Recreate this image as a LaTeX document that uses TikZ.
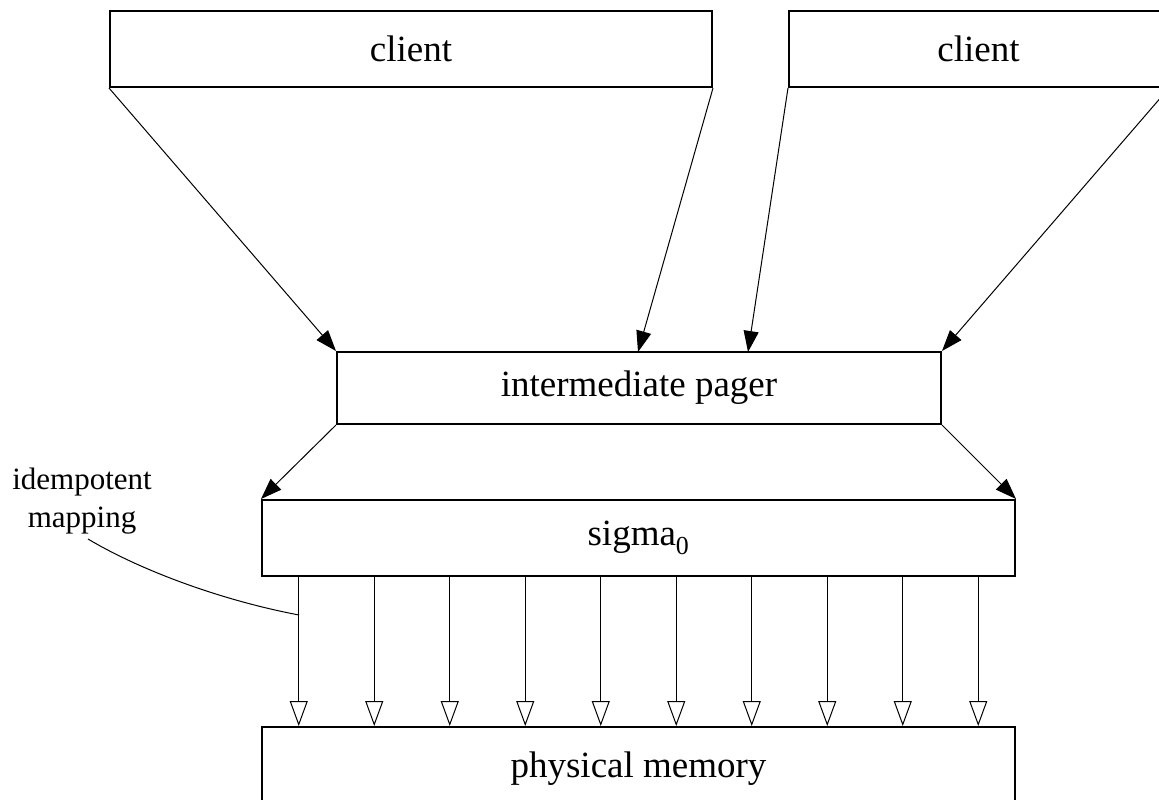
\documentclass[tikz,border=0pt]{standalone}
\usepackage{fontspec}
\setmainfont{Liberation Serif}
\usetikzlibrary{arrows.meta,calc}
\begin{document}
\begin{tikzpicture}[x=1pt,y=-1pt,
  box/.style={draw, line width=2pt, fill=white, inner sep=0pt,
    font=\fontsize{37}{40}\selectfont},
  link/.style={line width=1pt, -{Triangle[length=21pt,width=15pt]}},
  mapto/.style={line width=1pt, -{Triangle[open,length=25pt,width=18pt,line width=1pt]}}]
\useasboundingbox (0,0) rectangle (1159,800);

% boxes
\node[box, minimum width=602pt, minimum height=76pt] (c1) at (411,49) {client};
\node[box, minimum width=379pt, minimum height=76pt] (c2) at (978.5,49) {client};
\node[box, minimum width=604pt, minimum height=72pt] (ip) at (639,388) {intermediate pager};
\node[box, minimum width=753pt, minimum height=76pt] (sg) at (638.5,538) {sigma\textsubscript{0}};
\node[box, minimum width=753pt, minimum height=84pt] (pm) at (638.5,769) {physical memory};

% entry points of the client links on the pager
\coordinate (ipa) at (638,352);
\coordinate (ipb) at (748,352);

% clients to pager
\draw[link] (c1.south west) -- (ip.north west);
\draw[link] (c1.south east) -- (ipa);
\draw[link] (c2.south west) -- (ipb);
\draw[link] (c2.south east) -- (ip.north east);

% pager to sigma0
\draw[link] (ip.south west) -- (sg.north west);
\draw[link] (ip.south east) -- (sg.north east);

% sigma0 to physical memory
\foreach \i in {0,...,9} {
  \coordinate (s\i) at ($(sg.south west)!{(\i+0.5)/10}!(sg.south east)$);
  \coordinate (p\i) at ($(pm.north west)!{(\i+0.5)/10}!(pm.north east)$);
  \draw[mapto] (s\i) -- (p\i);
}

% annotation
\node[align=center, inner sep=0pt, font=\fontsize{31}{38}\selectfont] (lbl) at (82,501)
  {idempotent\\mapping};
\coordinate (lblfoot) at (88,539);
\coordinate (maptouch) at (299,615);
\draw[line width=1pt] (lblfoot) .. controls (140,570) and (220,600) .. (maptouch);
\end{tikzpicture}
\end{document}
